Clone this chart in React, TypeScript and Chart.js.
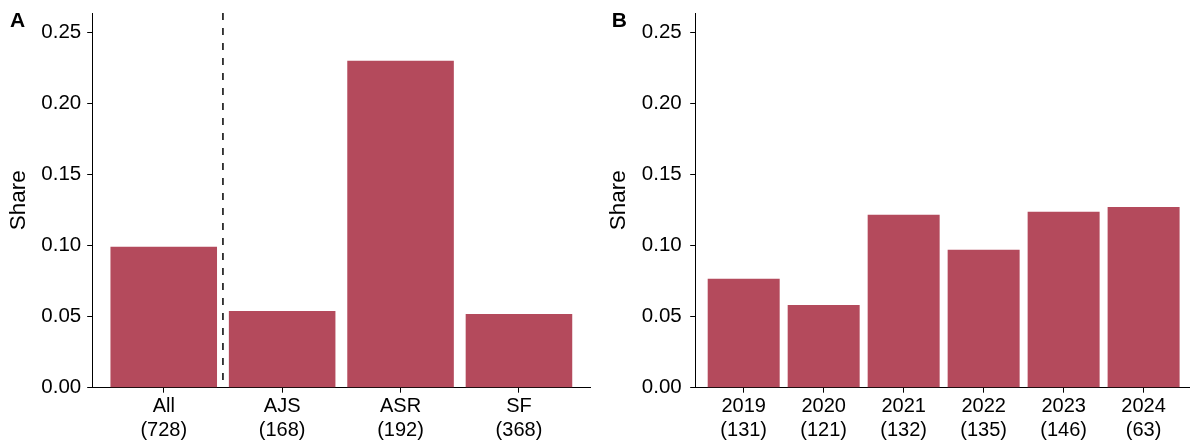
import React, { useEffect, useRef } from "react";
import { Chart, registerables } from "chart.js";

Chart.register(...registerables);

// ---- data ----
const venueLabels = ["All", "AJS", "ASR", "SF"];
const venueCounts = ["(728)", "(168)", "(192)", "(368)"];
const venueShare = [0.099, 0.054, 0.2298, 0.0518];

const yearLabels = ["2019", "2020", "2021", "2022", "2023", "2024"];
const yearCounts = ["(131)", "(121)", "(132)", "(135)", "(146)", "(63)"];
const yearShare = [0.0765, 0.0582, 0.1215, 0.0969, 0.1236, 0.127];

const yTickValues = [0, 0.05, 0.1, 0.15, 0.2, 0.25];
const venueDividers = [1.5];
const panelLetters = ["A", "B"];
const yTitle = "Share";

const BAR_COLOR = "#B44A5C";
const FONT = '"Liberation Sans", Arial, Helvetica, sans-serif';

type PanelOpts = {
  labels: string[];
  counts: string[];
  values: number[];
  letter: string;
  dividers: number[];
  xMax: number;
  yWidth: number;
  tickPad: number;
  padRight: number;
  letterX: number;
};

function makeChart(canvas: HTMLCanvasElement, o: PanelOpts) {
  const data = o.values.map((v, i) => ({ x: i + 1, y: v }));
  const decor = {
    id: "decor" + o.letter,
    afterDatasetsDraw(chart: any) {
      const ctx = chart.ctx;
      const area = chart.chartArea;
      const xs = chart.scales.x;
      ctx.save();
      ctx.strokeStyle = "#000";
      ctx.lineWidth = 1.5;
      ctx.setLineDash([7, 8]);
      o.dividers.forEach((d) => {
        const px = xs.getPixelForValue(d);
        ctx.beginPath();
        ctx.moveTo(px, area.top);
        ctx.lineTo(px, area.bottom);
        ctx.stroke();
      });
      ctx.restore();
    },
    afterDraw(chart: any) {
      const ctx = chart.ctx;
      ctx.save();
      ctx.fillStyle = "#000";
      ctx.font = "bold 21px " + FONT;
      ctx.textBaseline = "alphabetic";
      ctx.textAlign = "left";
      ctx.fillText(o.letter, o.letterX, 26.7);
      ctx.restore();
    },
  };
  return new Chart(canvas, {
    type: "bar",
    data: {
      datasets: [
        {
          data,
          backgroundColor: BAR_COLOR,
          borderWidth: 0,
          categoryPercentage: 1,
          barPercentage: 0.9,
        },
      ],
    },
    plugins: [decor],
    options: {
      responsive: false,
      animation: false,
      devicePixelRatio: 1,
      layout: { padding: { top: 13, right: o.padRight, left: 0, bottom: 0 } },
      plugins: { legend: { display: false }, tooltip: { enabled: false } },
      scales: {
        x: {
          type: "linear",
          offset: false,
          min: 0.4,
          max: o.xMax,
          afterBuildTicks: (s: any) => {
            s.ticks = o.labels.map((_, i) => ({ value: i + 1 }));
          },
          afterFit: (s: any) => {
            s.height = 443 - 387.7;
            s.paddingLeft = 0;
            s.paddingRight = 0;
          },
          ticks: {
            autoSkip: false,
            maxRotation: 0,
            minRotation: 0,
            padding: 2,
            color: "#000",
            font: { family: FONT, size: 20, lineHeight: 1.2 },
            callback: (v: any) => {
              const i = Math.round(Number(v)) - 1;
              return [o.labels[i], o.counts[i]];
            },
          },
          grid: {
            display: true,
            offset: false,
            drawOnChartArea: false,
            drawTicks: true,
            tickLength: 5,
            color: "#000",
            lineWidth: 1,
          },
          border: { display: true, color: "#000", width: 1 },
        },
        y: {
          type: "linear",
          min: 0,
          max: 0.2634,
          afterBuildTicks: (s: any) => {
            s.ticks = yTickValues.map((v) => ({ value: v }));
          },
          afterFit: (s: any) => {
            s.width = o.yWidth;
            s.paddingTop = 0;
            s.paddingBottom = 0;
          },
          ticks: {
            padding: o.tickPad,
            color: "#000",
            font: { family: FONT, size: 20.5 },
            callback: (v: any) => Number(v).toFixed(2),
          },
          grid: {
            display: true,
            drawOnChartArea: false,
            drawTicks: true,
            tickLength: 5.5,
            color: "#000",
            lineWidth: 1,
          },
          border: { display: true, color: "#000", width: 1 },
          title: {
            display: true,
            text: yTitle,
            color: "#000",
            font: { family: FONT, size: 22.5, lineHeight: 1.2 },
            padding: { top: 5, bottom: 0 },
          },
        },
      },
    },
  } as any);
}

export default function App() {
  const refA = useRef<HTMLCanvasElement>(null);
  const refB = useRef<HTMLCanvasElement>(null);
  useEffect(() => {
    const a = makeChart(refA.current!, {
      labels: venueLabels,
      counts: venueCounts,
      values: venueShare,
      letter: panelLetters[0],
      dividers: venueDividers,
      xMax: 4.6,
      yWidth: 92.7,
      tickPad: 6,
      padRight: 10,
      letterX: 10,
    });
    const b = makeChart(refB.current!, {
      labels: yearLabels,
      counts: yearCounts,
      values: yearShare,
      letter: panelLetters[1],
      dividers: [],
      xMax: 6.58,
      yWidth: 95.7,
      tickPad: 8.5,
      padRight: 0,
      letterX: 11.7,
    });
    return () => {
      a.destroy();
      b.destroy();
    };
  }, []);
  return (
    <div
      style={{
        position: "absolute",
        left: 0,
        top: 0,
        width: 1190,
        height: 443,
        overflow: "hidden",
        background: "#fff",
      }}
    >
      <canvas
        ref={refA}
        width={600}
        height={443}
        style={{ position: "absolute", left: 0, top: 0, width: 600, height: 443 }}
      />
      <canvas
        ref={refB}
        width={590}
        height={443}
        style={{ position: "absolute", left: 600, top: 0, width: 590, height: 443 }}
      />
    </div>
  );
}
